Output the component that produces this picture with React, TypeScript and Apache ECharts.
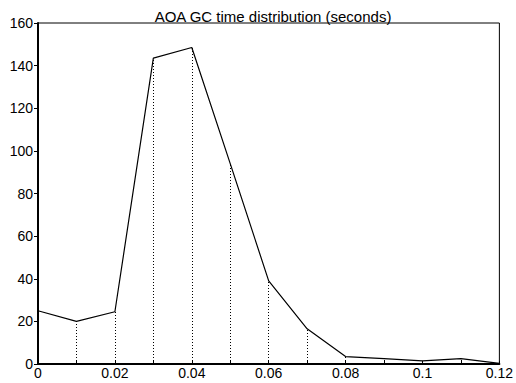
import React, { useEffect, useRef } from "react";
import * as echarts from "echarts";

const xValues = [0, 0.01, 0.02, 0.03, 0.04, 0.05, 0.06, 0.07, 0.08, 0.09, 0.1, 0.11, 0.12];
const yValues = [25, 20, 24.5, 143.5, 148.5, 94, 39, 16.5, 3.5, 2.5, 1.5, 2.5, 0.3];
const titleText = "AOA GC time distribution (seconds)";

export default function App() {
  const ref = useRef<HTMLDivElement>(null);
  useEffect(() => {
    if (!ref.current) return;
    const chart = echarts.init(ref.current, undefined, { renderer: "svg" });
    const data = xValues.map((x, i) => [x, yValues[i]]);
    const drops = xValues
      .map((x, i) => [{ coord: [x, 0] }, { coord: [x, yValues[i]] }])
      .filter((_, i) => i > 0 && i < xValues.length - 1);
    chart.setOption({
      animation: false,
      backgroundColor: "#fff",
      title: {
        text: titleText,
        left: 268,
        textAlign: "center",
        top: 4,
        textStyle: { fontFamily: "Liberation Sans", fontSize: 15, fontWeight: "normal", color: "#000" },
      },
      grid: {
        left: 38,
        right: 14,
        top: 23,
        bottom: 19,
        show: true,
        borderColor: "#000",
        borderWidth: 1,
        containLabel: false,
      },
      xAxis: {
        type: "value",
        min: 0,
        max: 0.12,
        interval: 0.02,
        axisLine: { show: true, onZero: false, lineStyle: { color: "#000", width: 2 } },
        axisTick: { show: true, inside: true, length: 3, lineStyle: { color: "#000" } },
        minorTick: { show: true, splitNumber: 2, length: 3, lineStyle: { color: "#000" } },
        splitLine: { show: false },
        axisLabel: {
          color: "#000",
          fontFamily: "Liberation Sans",
          fontSize: 14,
          margin: 2,
          formatter: (v: number) => String(Number(v.toFixed(2))),
        },
      },
      yAxis: {
        type: "value",
        min: 0,
        max: 160,
        interval: 20,
        axisLine: { show: true, lineStyle: { color: "#000", width: 2 } },
        axisTick: { show: true, inside: false, length: 4, lineStyle: { color: "#000" } },
        splitLine: { show: false },
        axisLabel: { color: "#000", fontFamily: "Liberation Sans", fontSize: 14, margin: 5 },
      },
      series: [
        {
          type: "line",
          data,
          symbol: "none",
          lineStyle: { color: "#000", width: 1.2 },
          markLine: {
            silent: true,
            symbol: "none",
            label: { show: false },
            lineStyle: { color: "#000", type: [1, 2], width: 1 },
            data: drops,
          },
        },
      ],
    });
    return () => chart.dispose();
  }, []);
  return (
    <div
      ref={ref}
      style={{ position: "fixed", left: 0, top: 0, width: 516, height: 383 }}
    />
  );
}
